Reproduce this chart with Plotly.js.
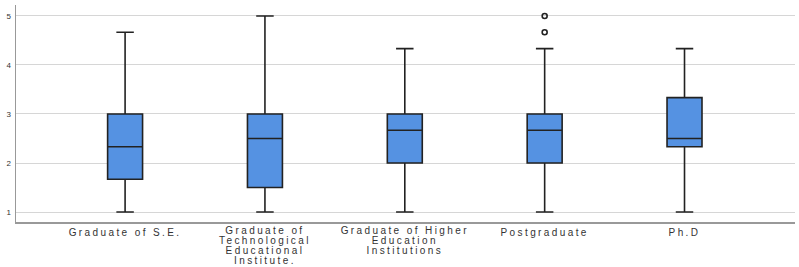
<!DOCTYPE html>
<html>
<head>
<meta charset="utf-8">
<script src="https://cdn.plot.ly/plotly-3.0.1.min.js"></script>
<style>
html,body{margin:0;padding:0;background:#fff;}
#chart{width:799px;height:267px;}
#chart .xtick text{letter-spacing:2.4px;}
</style>
</head>
<body>
<div id="chart"></div>
<script>
var categories = ["Graduate of S.E.", "Graduate of<br>Technological<br>Educational<br>Institute.", "Graduate of Higher<br>Education<br>Institutions", "Postgraduate", "Ph.D"];
var lowerFence = [1, 1, 1, 1, 1];
var q1Values = [1.667, 1.5, 2, 2, 2.333];
var medianValues = [2.333, 2.5, 2.667, 2.667, 2.5];
var q3Values = [3, 3, 3, 3, 3.333];
var upperFence = [4.667, 5, 4.333, 4.333, 4.333];
var outlierCategory = ["Postgraduate", "Postgraduate"];
var outlierValues = [4.667, 5];
var yTicks = [1, 2, 3, 4, 5];

var xIdx = categories.map(function(c, i){ return i; });
var outX = outlierCategory.map(function(c){ return categories.indexOf(c); });

var traces = [{
  type: 'box',
  x: xIdx,
  q1: q1Values,
  median: medianValues,
  q3: q3Values,
  lowerfence: lowerFence,
  upperfence: upperFence,
  width: 0.25,
  whiskerwidth: 0.5,
  fillcolor: '#5592e2',
  line: {color: '#222222', width: 1.6},
  boxpoints: false,
  hoverinfo: 'skip',
  showlegend: false
}, {
  type: 'scatter',
  mode: 'markers',
  x: outX,
  y: outlierValues,
  marker: {symbol: 'circle-open', size: 5, color: '#222222', line: {width: 1.6}},
  hoverinfo: 'skip',
  showlegend: false
}];

var layout = {
  width: 799, height: 267,
  margin: {l: 16, r: 4, t: 5, b: 45},
  paper_bgcolor: '#ffffff',
  plot_bgcolor: '#ffffff',
  font: {family: 'Liberation Sans, Arial, sans-serif', color: '#333333'},
  xaxis: {
    range: [-0.78, 4.79],
    tickmode: 'array',
    tickvals: xIdx,
    ticktext: categories,
    tickangle: 0,
    showgrid: false,
    zeroline: false,
    showline: true,
    linecolor: '#999999',
    linewidth: 1.5,
    ticks: '',
    ticklabelstandoff: 0,
    tickfont: {size: 10, color: '#333333'},
    fixedrange: true
  },
  yaxis: {
    range: [0.796, 5.224],
    tickmode: 'array',
    tickvals: yTicks,
    ticktext: yTicks.map(String),
    showgrid: true,
    gridcolor: '#d6d6d6',
    gridwidth: 1,
    zeroline: false,
    showline: true,
    linecolor: '#999999',
    linewidth: 1.5,
    ticks: '',
    ticklabelstandoff: 2,
    tickfont: {size: 8, color: '#333333'},
    fixedrange: true
  }
};

Plotly.newPlot('chart', traces, layout, {displayModeBar: false, staticPlot: true}).then(function(gd){
  // tighten the line spacing of the multi-line category labels
  gd.querySelectorAll('.xtick text').forEach(function(t){
    t.querySelectorAll('tspan.line').forEach(function(ts, i){
      ts.setAttribute('dy', (i * 1.0 - 0.15) + 'em');
    });
  });
});
</script>
</body>
</html>
